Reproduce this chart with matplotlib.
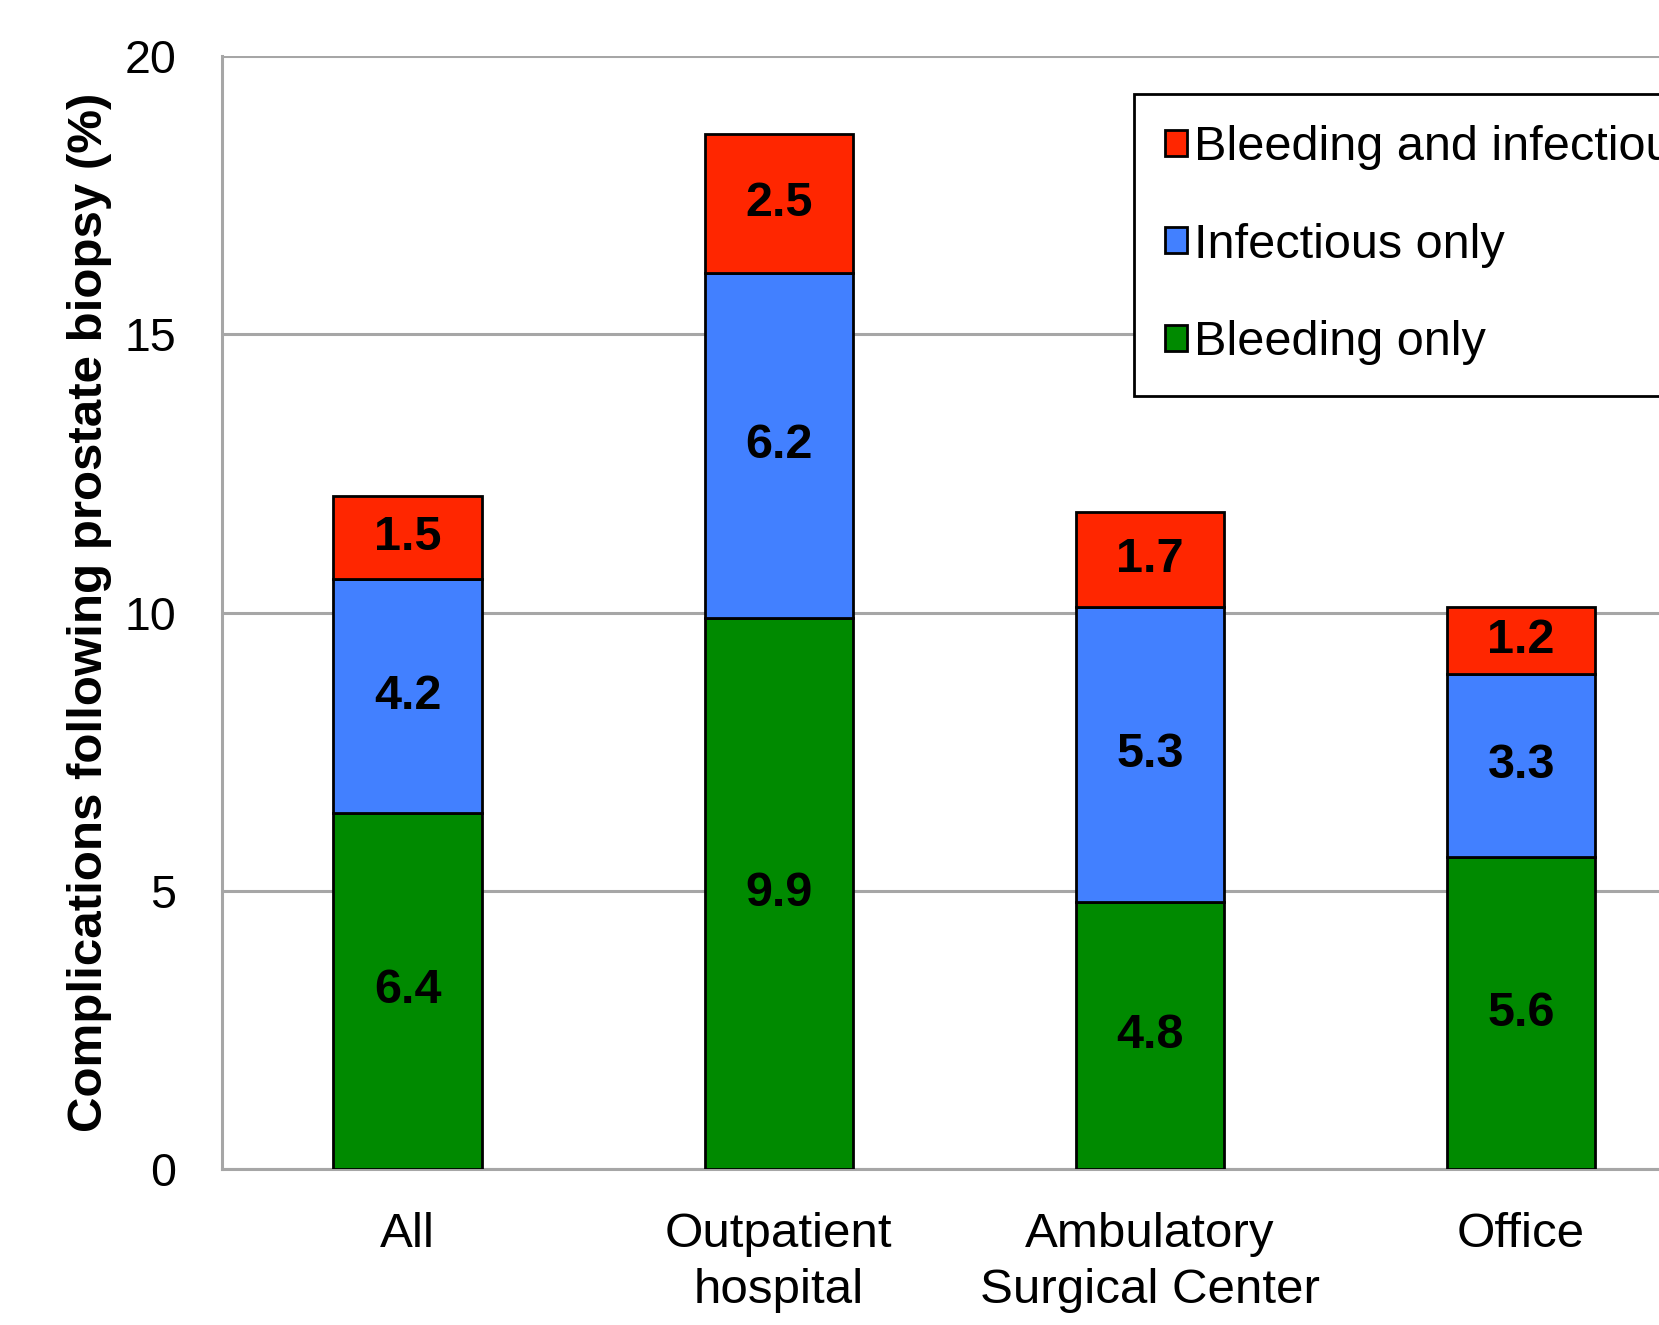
import matplotlib
matplotlib.use("Agg")
import matplotlib.pyplot as plt
import numpy as np

plt.rcParams["font.family"] = ["Liberation Sans", "DejaVu Sans"]

categories = ["All", "Outpatient\nhospital", "Ambulatory\nSurgical Center", "Office"]
bleeding_only = [6.4, 9.9, 4.8, 5.6]
infectious_only = [4.2, 6.2, 5.3, 3.3]
bleeding_and_infectious = [1.5, 2.5, 1.7, 1.2]

green = "#008a00"
blue = "#4280ff"
red = "#ff2600"

fig = plt.figure(figsize=(16.59, 13.25), dpi=100)
# axes run past the right edge, like the cropped original
ax = fig.add_axes([0.1338, 0.1177, 0.895, 0.840])

x = np.arange(len(categories))
w = 0.4
bottom2 = np.array(bleeding_only)
bottom3 = bottom2 + np.array(infectious_only)

b1 = ax.bar(x, bleeding_only, w, color=green, edgecolor="black", linewidth=2, zorder=3, label="Bleeding only")
b2 = ax.bar(x, infectious_only, w, bottom=bottom2, color=blue, edgecolor="black", linewidth=2, zorder=3, label="Infectious only")
b3 = ax.bar(x, bleeding_and_infectious, w, bottom=bottom3, color=red, edgecolor="black", linewidth=2, zorder=3, label="Bleeding and infectious")

for bars in (b1, b2, b3):
    ax.bar_label(bars, labels=[f"{b.get_height():.1f}" for b in bars], label_type="center",
                 fontsize=35, fontweight="bold", color="black", zorder=4)

ax.set_xlim(-0.5, 3.5)
ax.set_ylim(0, 20)
ax.set_yticks([0, 5, 10, 15, 20])
ax.set_xticks(x)
ax.set_xticklabels(categories, fontsize=35.5, linespacing=1.3)
ax.tick_params(axis="y", labelsize=33.5, length=0, pad=33)
ax.tick_params(axis="x", length=0, pad=31)

ax.grid(axis="y", color="#a6a6a6", linewidth=2.2, zorder=0)
for s in ["top", "right"]:
    ax.spines[s].set_visible(False)
ax.spines["left"].set_color("#a6a6a6")
ax.spines["bottom"].set_color("#a6a6a6")
ax.spines["left"].set_linewidth(2.2)
ax.spines["bottom"].set_linewidth(2.2)

ax.set_ylabel("Complications following prostate biopsy (%)", fontsize=35.5, fontweight="bold")
ax.yaxis.set_label_coords(-0.074, 0.5)

handles = [b3, b2, b1]
leg = fig.legend(handles, [h.get_label() for h in handles], loc="upper left",
                 bbox_to_anchor=(0.6835, 0.929), bbox_transform=fig.transFigure,
                 fontsize=35, frameon=True, fancybox=False, edgecolor="black",
                 handlelength=0.45, handleheight=0.45, handletextpad=0.15,
                 labelspacing=1.08, borderpad=0.64, borderaxespad=0)
leg.get_frame().set_linewidth(2)
leg.get_frame().set_alpha(1)

fig.savefig("out.png", dpi=100, facecolor="white")
